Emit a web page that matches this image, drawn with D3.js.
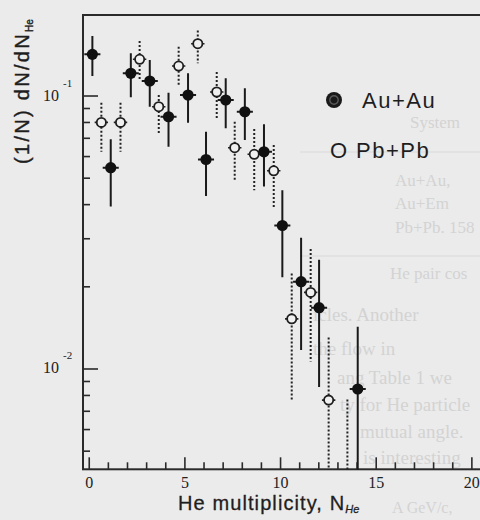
<!DOCTYPE html>
<html>
<head>
<meta charset="utf-8">
<script src="https://cdn.jsdelivr.net/npm/d3@7"></script>
<style>
  body { margin: 0; background: #ebebeb; }
  svg { display: block; }
  .ghost { font-family: "Liberation Serif", serif; fill: #d3d3d3; }
  .tick text { font-family: "Liberation Serif", serif; font-size: 16px; fill: #222; }
  .tick line { stroke: #2a2a2a; stroke-width: 1.6; }
</style>
</head>
<body>
<div id="chart"></div>
<script>
// Au+Au (filled circles, solid error bars)
const auN    = [0.19, 1.15, 2.2, 3.19, 4.17, 5.19, 6.13, 7.16, 8.16, 9.16, 10.12, 11.1, 12.04, 14.06];
const auVal  = [0.1415, 0.0544, 0.1206, 0.113, 0.0836, 0.1004, 0.0583, 0.0963, 0.0872, 0.0622, 0.0334, 0.0208, 0.0167, 0.00841];
const auHigh = [0.1652, 0.0691, 0.1428, 0.1349, 0.1024, 0.1206, 0.0737, 0.1156, 0.1063, 0.0784, 0.045, 0.0301, 0.025, 0.01422];
const auLow  = [0.1179, 0.0392, 0.0985, 0.091, 0.0649, 0.0795, 0.0428, 0.0758, 0.0687, 0.0464, 0.0216, 0.01169, 0.00855, 0.003];

// Pb+Pb (open circles, dotted error bars)
const pbN    = [0.66, 1.66, 2.66, 3.66, 4.7, 5.7, 6.69, 7.63, 8.65, 9.67, 10.61, 11.6, 12.54, 13.52];
const pbVal  = [0.0797, 0.0797, 0.1357, 0.091, 0.1282, 0.1548, 0.103, 0.0644, 0.0609, 0.053, 0.0152, 0.019, 0.00766, 0.0035];
const pbHigh = [0.0941, 0.0941, 0.1583, 0.1004, 0.151, 0.173, 0.1219, 0.0802, 0.0754, 0.0659, 0.0223, 0.0274, 0.01299, 0.0077];
const pbLow  = [0.0622, 0.0622, 0.114, 0.0723, 0.1093, 0.1312, 0.082, 0.049, 0.045, 0.0387, 0.00766, 0.0106, 0.003, 0.002];

const xMajor = [0, 5, 10, 15, 20];
const xMinor = [1, 2, 3, 4, 6, 7, 8, 9, 11, 12, 13, 14, 16, 17, 18, 19];
const yMajor = [0.01, 0.1];
const yMajorLabels = ["-2", "-1"];
const yMinor = [0.005, 0.006, 0.007, 0.008, 0.009, 0.02, 0.03, 0.04, 0.05, 0.06, 0.07, 0.08, 0.09];

const legendNames = ["Au+Au", "Pb+Pb"];

// faint text of the scanned page showing through: [x, y, size, text]
const ghostLines = [
  [410, 128, 17, "System"],
  [395, 186, 17, "Au+Au,  11.6 A GeV/c"],
  [395, 209, 17, "Au+Em  158 A GeV/c"],
  [395, 233, 17, "Pb+Pb.  158 A GeV/c"],
  [390, 279, 17, "He pair  cos"],
  [313, 321, 19, "icles.  Another possible interpretation"],
  [313, 355, 19, "the flow in connection with"],
  [337, 384, 19, "ang Table 1 we see a"],
  [340, 411, 19, "ty for He particle pairs"],
  [360, 438, 19, "mutual angle. The correlation"],
  [363, 464, 19, "is interesting to note"],
  [392, 513, 16, "A GeV/c, Au+"]
];
const ghostRules = [152, 256];

const W = 480, H = 520;
const plot = { left: 83, top: 15, right: 490.5, bottom: 469.3 };

const svg = d3.select("#chart").append("svg")
  .attr("width", W)
  .attr("height", H);

svg.append("g").selectAll("line")
  .data(ghostRules)
  .enter()
  .append("line")
  .attr("x1", 300).attr("x2", W)
  .attr("y1", d => d).attr("y2", d => d)
  .attr("stroke", "#dadada")
  .attr("stroke-width", 1.2);

svg.append("g").selectAll("text")
  .data(ghostLines)
  .enter()
  .append("text")
  .attr("class", "ghost")
  .attr("x", d => d[0])
  .attr("y", d => d[1])
  .style("font-size", d => d[2] + "px")
  .text(d => d[3])
  .each(function (d) {
    // drop words until the line stays inside the page
    const el = d3.select(this);
    let words = d[3].split(" ");
    while (words.length > 1 && d[0] + this.getComputedTextLength() > W - 3) {
      words.pop();
      el.text(words.join(" ").trim());
    }
  });

const x = d3.scaleLinear().domain([-0.3, 21]).range([plot.left, plot.right]);
const y = d3.scaleLog().domain([0.004273, 0.1972]).range([plot.bottom, plot.top]);

svg.append("clipPath").attr("id", "clip")
  .append("rect")
  .attr("x", plot.left).attr("y", plot.top)
  .attr("width", plot.right - plot.left).attr("height", plot.bottom - plot.top);

// frame
svg.append("rect")
  .attr("x", plot.left).attr("y", plot.top)
  .attr("width", plot.right - plot.left).attr("height", plot.bottom - plot.top)
  .attr("fill", "none")
  .attr("stroke", "#2a2a2a")
  .attr("stroke-width", 2);

// x axis
const xAxisMajor = d3.axisBottom(x).tickValues(xMajor).tickSize(-12).tickPadding(7).tickFormat(d3.format("d"));
const xAxisMinor = d3.axisBottom(x).tickValues(xMinor).tickSize(-7).tickFormat("");
svg.append("g").attr("transform", `translate(0,${plot.bottom})`).call(xAxisMajor).call(g => g.select(".domain").remove());
svg.append("g").attr("transform", `translate(0,${plot.bottom})`).call(xAxisMinor).call(g => g.select(".domain").remove());

// y axis
const yAxisMajor = d3.axisLeft(y).tickValues(yMajor).tickSize(-15).tickFormat("");
const yAxisMinor = d3.axisLeft(y).tickValues(yMinor).tickSize(-7).tickFormat("");
svg.append("g").attr("transform", `translate(${plot.left},0)`).call(yAxisMajor).call(g => g.select(".domain").remove());
svg.append("g").attr("transform", `translate(${plot.left},0)`).call(yAxisMinor).call(g => g.select(".domain").remove());

const yLab = svg.append("g").selectAll("g")
  .data(yMajor)
  .enter()
  .append("g")
  .attr("transform", d => `translate(0,${y(d)})`);
yLab.append("text")
  .attr("x", 59).attr("y", 5)
  .attr("text-anchor", "end")
  .style("font-family", "Liberation Serif, serif")
  .style("font-size", "16px")
  .attr("fill", "#222")
  .text("10");
yLab.append("text")
  .attr("x", 63).attr("y", -9)
  .style("font-family", "Liberation Serif, serif")
  .style("font-size", "11px")
  .attr("fill", "#222")
  .text((d, i) => yMajorLabels[i]);

// axis titles
const yTitle = svg.append("text")
  .attr("transform", "translate(29,164) rotate(-90)")
  .style("font-family", "Liberation Sans, sans-serif")
  .style("font-size", "20px")
  .style("letter-spacing", "2.3px")
  .attr("fill", "#1e1e1e")
  .attr("stroke", "#1e1e1e")
  .attr("stroke-width", 0.4);
yTitle.append("tspan").text("(1/N) dN/dN");
yTitle.append("tspan").attr("dy", 4).style("font-size", "10px").style("letter-spacing", "0px").text("He");

const xTitle = svg.append("text")
  .attr("x", 178).attr("y", 510)
  .style("font-family", "Liberation Sans, sans-serif")
  .style("font-size", "20px")
  .style("letter-spacing", "1.1px")
  .attr("fill", "#1e1e1e")
  .attr("stroke", "#1e1e1e")
  .attr("stroke-width", 0.3);
xTitle.append("tspan").text("He multiplicity, N");
xTitle.append("tspan").attr("dy", 3).style("font-size", "11px").style("letter-spacing", "0px").style("font-style", "italic").text("He");

// data
const au = auN.map((n, i) => ({ n, v: auVal[i], hi: auHigh[i], lo: auLow[i] }));
const pb = pbN.map((n, i) => ({ n, v: pbVal[i], hi: pbHigh[i], lo: pbLow[i] }));

const marks = svg.append("g").attr("clip-path", "url(#clip)");

// Pb+Pb error bars (dotted)
marks.append("g").selectAll("line")
  .data(pb)
  .enter()
  .append("line")
  .attr("x1", d => x(d.n)).attr("x2", d => x(d.n))
  .attr("y1", d => y(d.hi)).attr("y2", d => y(d.lo))
  .attr("stroke", "#222")
  .attr("stroke-width", 2)
  .attr("stroke-dasharray", "2,2");
marks.append("g").selectAll("line")
  .data(pb)
  .enter()
  .append("line")
  .attr("x1", d => x(d.n - 0.35)).attr("x2", d => x(d.n + 0.35))
  .attr("y1", d => y(d.v)).attr("y2", d => y(d.v))
  .attr("stroke", "#222")
  .attr("stroke-width", 1.6);

// Au+Au error bars (solid)
marks.append("g").selectAll("line")
  .data(au)
  .enter()
  .append("line")
  .attr("x1", d => x(d.n)).attr("x2", d => x(d.n))
  .attr("y1", d => y(d.hi)).attr("y2", d => y(d.lo))
  .attr("stroke", "#1a1a1a")
  .attr("stroke-width", 2);
marks.append("g").selectAll("line")
  .data(au)
  .enter()
  .append("line")
  .attr("x1", d => x(d.n - 0.42)).attr("x2", d => x(d.n + 0.42))
  .attr("y1", d => y(d.v)).attr("y2", d => y(d.v))
  .attr("stroke", "#1a1a1a")
  .attr("stroke-width", 2);

marks.append("g").selectAll("circle")
  .data(pb)
  .enter()
  .append("circle")
  .attr("cx", d => x(d.n))
  .attr("cy", d => y(d.v))
  .attr("r", 4.6)
  .attr("fill", "#f0f0f0")
  .attr("stroke", "#1e1e1e")
  .attr("stroke-width", 1.8);

marks.append("g").selectAll("circle")
  .data(au)
  .enter()
  .append("circle")
  .attr("cx", d => x(d.n))
  .attr("cy", d => y(d.v))
  .attr("r", 5.6)
  .attr("fill", "#111");

// legend
const legend = svg.append("g").attr("transform", "translate(334,100)");
legend.append("circle").attr("r", 8).attr("fill", "#1a1a1a");
legend.append("circle").attr("r", 4.2).attr("fill", "none").attr("stroke", "#5a5a5a").attr("stroke-width", 1.4);
legend.append("text")
  .attr("x", 28).attr("y", 8)
  .style("font-family", "Liberation Sans, sans-serif")
  .style("font-size", "22px")
  .style("letter-spacing", "1.5px")
  .attr("fill", "#1e1e1e")
  .text(legendNames[0]);
legend.append("text")
  .attr("x", -4).attr("y", 58)
  .style("font-family", "Liberation Sans, sans-serif")
  .style("font-size", "22px")
  .attr("fill", "#1e1e1e")
  .text("O");
legend.append("text")
  .attr("x", 22).attr("y", 58)
  .style("font-family", "Liberation Sans, sans-serif")
  .style("font-size", "22px")
  .style("letter-spacing", "1.5px")
  .attr("fill", "#1e1e1e")
  .text(legendNames[1]);
</script>
</body>
</html>
